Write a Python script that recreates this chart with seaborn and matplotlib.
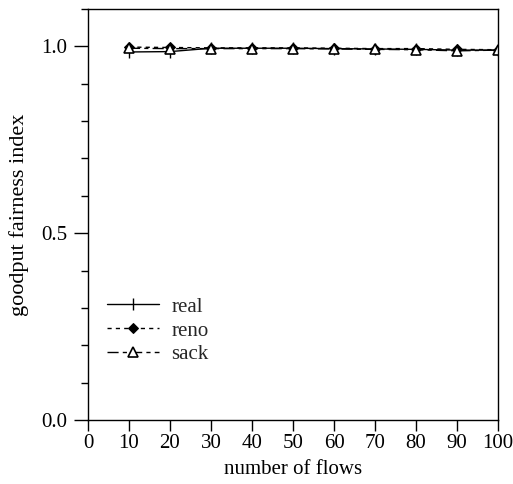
import numpy as np
import pandas as pd
import matplotlib
matplotlib.use("Agg")
import matplotlib.pyplot as plt
import seaborn as sns
from matplotlib.ticker import MultipleLocator

sns.set_theme(style="white")
plt.rcParams['font.family'] = ['Liberation Serif', 'DejaVu Serif']

# data
flows = [10, 20, 30, 40, 50, 60, 70, 80, 90, 100]
real = [0.985, 0.986, 0.995, 0.995, 0.995, 0.994, 0.993, 0.992, 0.990, 0.990]
reno = [0.998, 0.997, 0.996, 0.996, 0.996, 0.995, 0.994, 0.994, 0.992, 0.991]
sack = [0.995, 0.994, 0.994, 0.994, 0.994, 0.993, 0.992, 0.991, 0.988, 0.990]

df = pd.DataFrame({'flows': flows, 'real': real, 'reno': reno, 'sack': sack})

fig = plt.figure(figsize=(5.13, 4.84), dpi=100)
ax = fig.add_axes([0.1715, 0.1322, 0.7993, 0.8492])

sns.lineplot(data=df, x='flows', y='real', ax=ax, color='black', lw=1.0,
             marker='|', markersize=9, markeredgewidth=1.0,
             markeredgecolor='black', label='real')
sns.lineplot(data=df, x='flows', y='reno', ax=ax, color='black', lw=1.0,
             linestyle=(0, (3, 3)), marker='D', markersize=5,
             markerfacecolor='black', markeredgecolor='black', label='reno')
sns.lineplot(data=df, x='flows', y='sack', ax=ax, color='black', lw=1.0,
             linestyle=(0, (8, 3, 3, 3)), marker='^', markersize=7,
             markerfacecolor='white', markeredgecolor='black',
             markeredgewidth=1.2, label='sack')

ax.set_xlim(0, 100)
ax.set_ylim(0, 1.1)
ax.xaxis.set_major_locator(MultipleLocator(10))
ax.yaxis.set_major_locator(MultipleLocator(0.5))
ax.yaxis.set_minor_locator(MultipleLocator(0.1))
ax.yaxis.set_major_formatter(matplotlib.ticker.FormatStrFormatter('%.1f'))
ax.tick_params(axis='y', which='major', direction='out', length=10,
               width=1.0, color='black', labelsize=15, labelcolor='black',
               pad=5, left=True, right=False)
ax.tick_params(axis='x', which='major', direction='out', length=8,
               width=1.0, color='black', labelsize=15, labelcolor='black',
               pad=2, bottom=True, top=False)
ax.tick_params(axis='y', which='minor', direction='out', length=5,
               width=1.0, color='black', left=True)
for s in ax.spines.values():
    s.set_color('black')
    s.set_linewidth(1.0)

ax.set_xlabel('number of flows', fontsize=15, color='black', labelpad=5)
ax.set_ylabel('goodput fairness index', fontsize=16, color='black',
              labelpad=9)

leg = ax.legend(loc='lower left', bbox_to_anchor=(0.0, 0.09), frameon=False,
                fontsize=15, handlelength=2.5, handletextpad=0.6,
                labelspacing=0.2)

fig.savefig('out.png', dpi=100)
